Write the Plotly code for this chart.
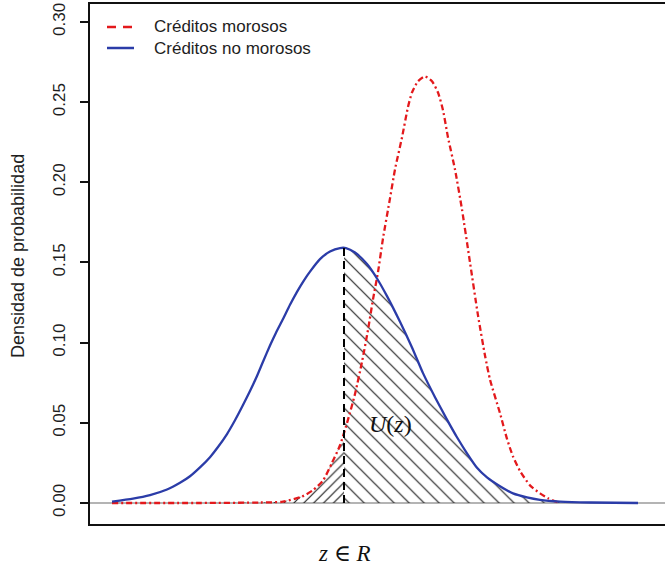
import numpy as np
import plotly.graph_objects as go

# Estimated densities on the score axis z
z_no_moroso = [-5.8, -5.275, -4.85, -4.425, -4.1, -3.85, -3.6, -3.35, -3.15, -2.925,
               -2.725, -2.525, -2.35, -2.175, -2.025, -1.85, -1.7, -1.525, -1.35, -1.175,
               -1.0, -0.85, -0.6, -0.35, -0.1, 0.05, 0.275, 0.575, 0.825, 1.075,
               1.4, 1.7, 1.975, 2.275, 2.575, 2.825, 3.075, 3.325, 3.575, 3.9,
               4.225, 4.575, 4.9, 5.4, 6.15, 7.35]
dens_no_moroso = [0.0008, 0.0027, 0.0049, 0.0084, 0.0126, 0.0167, 0.0222, 0.0286, 0.0349, 0.0430,
                  0.0516, 0.0611, 0.0698, 0.0792, 0.0881, 0.0982, 0.1062, 0.1147, 0.1236, 0.1317,
                  0.1389, 0.1443, 0.1521, 0.1568, 0.1590, 0.1590, 0.1562, 0.1490, 0.1400, 0.1290,
                  0.1130, 0.0970, 0.0810, 0.0660, 0.0520, 0.0410, 0.0310, 0.0220, 0.0160, 0.0105,
                  0.0060, 0.0035, 0.0020, 0.0009, 0.0003, 0.0]

z_moroso = [-5.8, -3.6, -2.1, -1.525, -1.05, -0.775, -0.525, -0.3, -0.1, 0.1,
            0.275, 0.45, 0.6, 0.725, 0.85, 0.975, 1.15, 1.275, 1.45, 1.6,
            1.7, 1.85, 2.025, 2.2, 2.35, 2.475, 2.6, 2.775, 2.95, 3.15,
            3.35, 3.525, 3.65, 3.9, 4.075, 4.225, 4.4, 4.65, 4.9, 5.1,
            5.275, 5.4]
dens_moroso = [0.0, 0.0, 0.0003, 0.0008, 0.004, 0.008, 0.014, 0.025, 0.036, 0.052,
               0.068, 0.088, 0.108, 0.127, 0.144, 0.165, 0.190, 0.208, 0.228, 0.247,
               0.256, 0.263, 0.266, 0.263, 0.256, 0.245, 0.228, 0.208, 0.183, 0.150,
               0.117, 0.092, 0.077, 0.056, 0.040, 0.029, 0.020, 0.011, 0.006, 0.003,
               0.001, 0.0]

z_corte = 0.0
y_ticks = [0.00, 0.05, 0.10, 0.15, 0.20, 0.25, 0.30]
series_names = ["Créditos morosos", "Créditos no morosos"]

RED = "#e3191c"
BLUE = "#2b3ca8"
INK = "#1e1e1e"

zn = np.array(z_no_moroso)
dn = np.array(dens_no_moroso)
zm = np.array(z_moroso)
dm = np.array(dens_moroso)

dn_cut = float(np.interp(z_corte, zn, dn))
dm_cut = float(np.interp(z_corte, zm, dm))

# hatched regions: no-morosos to the right of the cut, morosos to the left
right_x = np.concatenate([[z_corte], zn[zn > z_corte]])
right_y = np.concatenate([[dn_cut], dn[zn > z_corte]])
left_x = np.concatenate([zm[zm < z_corte], [z_corte]])
left_y = np.concatenate([dm[zm < z_corte], [dm_cut]])

fig = go.Figure()

fig.add_trace(go.Scatter(
    x=right_x, y=right_y, mode="none", fill="tozeroy",
    fillcolor="rgba(0,0,0,0)",
    fillpattern=dict(shape="\\", size=10.6, solidity=0.11, fgopacity=1,
                     fgcolor="#202020", bgcolor="rgba(0,0,0,0)"),
    showlegend=False, hoverinfo="skip"))
fig.add_trace(go.Scatter(
    x=left_x, y=left_y, mode="none", fill="tozeroy",
    fillcolor="rgba(0,0,0,0)",
    fillpattern=dict(shape="/", size=7, solidity=0.17, fgopacity=1,
                     fgcolor="#202020", bgcolor="rgba(0,0,0,0)"),
    showlegend=False, hoverinfo="skip"))

# density curves
fig.add_trace(go.Scatter(
    x=z_moroso, y=dens_moroso, mode="lines", line_shape="spline",
    line=dict(color=RED, width=2.3, dash="6px,3px,2px,3px", smoothing=0.6),
    showlegend=False, hoverinfo="skip"))
fig.add_trace(go.Scatter(
    x=z_no_moroso, y=dens_no_moroso, mode="lines", line_shape="spline",
    line=dict(color=BLUE, width=2.3, smoothing=0.6),
    showlegend=False, hoverinfo="skip"))

# cut-off line at z
fig.add_trace(go.Scatter(
    x=[z_corte, z_corte], y=[0, dn_cut], mode="lines",
    line=dict(color="black", width=2, dash="8px,5px"),
    showlegend=False, hoverinfo="skip"))

# legend (top-left, inside the frame)
def px_x(p):
    return (p - 90) / 575


def px_y(p):
    return (524 - p) / 520


legend_rows = [(series_names[0], RED, "9px,7px", 27), (series_names[1], BLUE, "solid", 48)]
shapes = []
annotations = []
for name, col, dash, row in legend_rows:
    shapes.append(dict(type="line", xref="paper", yref="paper",
                       x0=px_x(107), x1=px_x(134), y0=px_y(row), y1=px_y(row),
                       line=dict(color=col, width=2.5, dash=dash)))
    annotations.append(dict(text=name, xref="paper", yref="paper",
                            x=px_x(152), y=px_y(row), xanchor="left", yanchor="middle",
                            showarrow=False, font=dict(size=17, color=INK)))

annotations += [
    dict(text="Densidad de probabilidad", xref="paper", yref="paper",
         x=px_x(18), y=px_y(256), xanchor="center", yanchor="middle",
         textangle=-90, showarrow=False, font=dict(size=18, color=INK)),
    dict(text="<i>z</i> ∈ <i>R</i>", xref="x", yref="paper",
         x=z_corte, y=px_y(553), xanchor="center", yanchor="middle", showarrow=False,
         font=dict(family="Liberation Serif, DejaVu Serif, serif", size=23, color="#111111")),
    dict(text="<i>U</i>(<i>z</i>)", xref="x", yref="y",
         x=1.15, y=0.049, showarrow=False,
         font=dict(family="Liberation Serif, DejaVu Serif, serif", size=24, color="#111111")),
]

fig.update_layout(
    width=665, height=571,
    margin=dict(l=90, r=0, t=4, b=47),
    paper_bgcolor="white", plot_bgcolor="white",
    font=dict(family="Liberation Sans, Arial, sans-serif", color=INK),
    showlegend=False,
    xaxis=dict(range=[-6.35, 8.025], showgrid=False, zeroline=False,
               showticklabels=False, ticks="",
               showline=True, mirror=True, linecolor="#111111", linewidth=1.5),
    yaxis=dict(range=[-0.0131, 0.3112], showgrid=False,
               zeroline=True, zerolinecolor="#b4b4b4", zerolinewidth=1.5,
               tickvals=y_ticks, tickformat=".2f", tickangle=-90,
               ticks="outside", ticklen=8, tickwidth=1.5, tickcolor="#111111",
               tickfont=dict(size=17, color=INK), ticklabelstandoff=8,
               showline=True, mirror=False, linecolor="#111111", linewidth=1.5),
    shapes=shapes,
    annotations=annotations,
)

fig.write_html("out.html")
